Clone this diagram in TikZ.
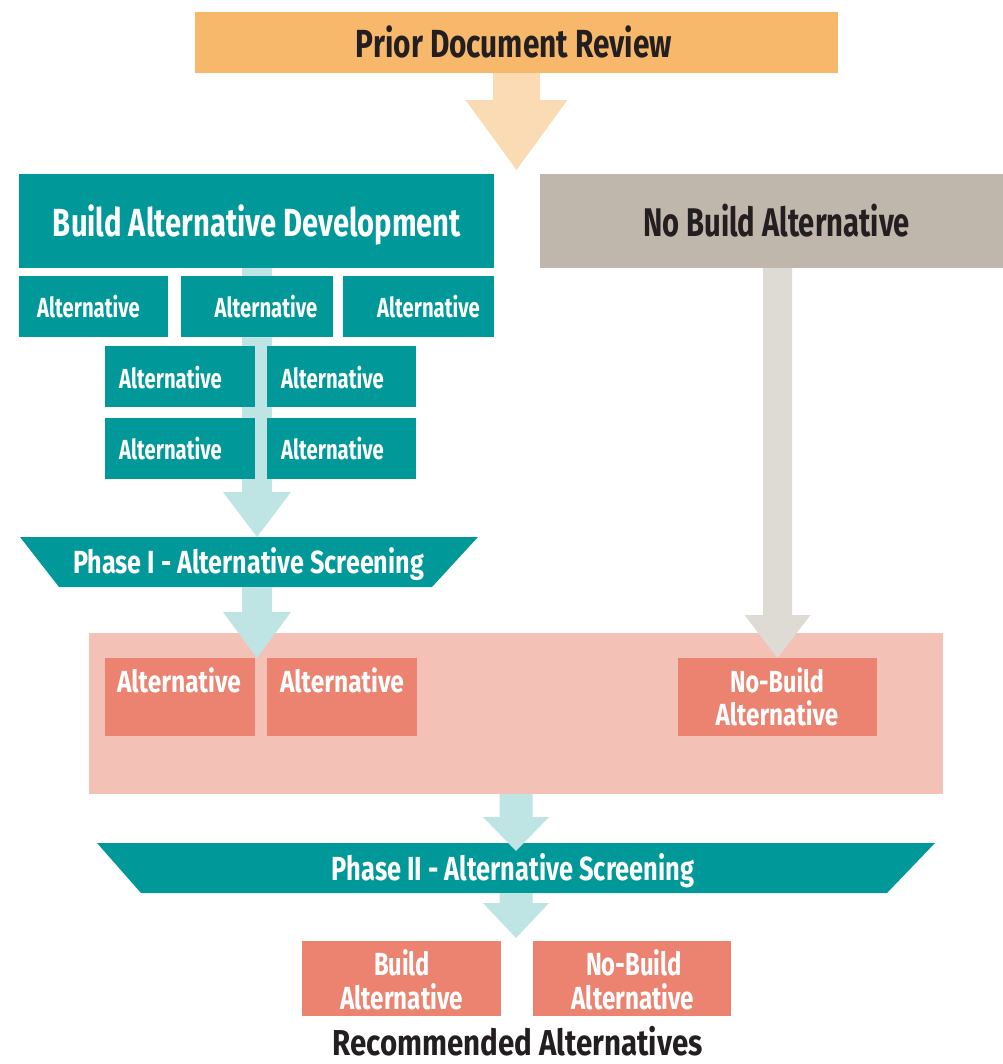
\documentclass[tikz,border=0pt]{standalone}
\usepackage{fontspec}
\setmainfont{Fira Sans}
\usepackage{graphicx}
\usetikzlibrary{calc}
\definecolor{orangeC}{RGB}{247,184,108}
\definecolor{orangeL}{RGB}{251,219,180}
\definecolor{tealC}{RGB}{0,152,152}
\definecolor{tealL}{RGB}{190,228,228}
\definecolor{greyC}{RGB}{191,182,172}
\definecolor{greyL}{RGB}{222,219,213}
\definecolor{pinkL}{RGB}{244,193,183}
\definecolor{salmonC}{RGB}{236,130,112}
\definecolor{inkC}{RGB}{35,31,32}
% text of fixed width: #1 width, #2 font size (pt), #3 text
\newcommand\fw[3]{\resizebox{#1}{\height}{\fontsize{#2}{#2}\selectfont\bfseries #3}}
% vertical block arrow: #1 start, #2 tip (x taken from tip), #3 shaft half width, #4 head half width, #5 head length (px), #6 colour
\newcommand\blockarrow[6]{%
  \fill[#6] let \p1=(#1), \p2=(#2) in
    (\x2-#3*0.75pt,\y1) -- (\x2-#3*0.75pt,\y2+#5*0.75pt) -- (\x2-#4*0.75pt,\y2+#5*0.75pt)
    -- (\x2,\y2) -- (\x2+#4*0.75pt,\y2+#5*0.75pt) -- (\x2+#3*0.75pt,\y2+#5*0.75pt)
    -- (\x2+#3*0.75pt,\y1) -- cycle;}
\tikzset{
  bx/.style n args={2}{rectangle, inner sep=0pt, outer sep=0pt,
    minimum width=#1*0.75pt, minimum height=#2*0.75pt},
  tx/.style={anchor=base, inner sep=0pt, outer sep=0pt, text=white},
  txd/.style={tx, text=inkC},
}
\begin{document}
\begin{tikzpicture}[x=0.75pt,y=-0.75pt]
\useasboundingbox (0,0) rectangle (1003,1064);

% top box and orange arrow
\node[bx={643}{61}, fill=orangeC] (prior) at (516.5,42.5) {};
\coordinate (tip1) at (516.5,170);
\blockarrow{prior.south}{tip1}{23.5}{51}{70}{orangeL}

% branch headers
\node[bx={475}{94}, fill=tealC] (build) at (256.5,221) {};
\node[bx={463}{94}, fill=greyC] (nobuild) at (771.5,221) {};

% phase I placeholder (shape drawn below)
\node[bx={474}{50}] (phase1) at (257,562) {};

% light teal bar behind the alternatives
\blockarrow{build.south}{phase1.north}{15}{34}{45}{tealL}

% alternatives
\node[bx={149}{61}, fill=tealC] (a1) at (93.5,306.5) {};
\node[bx={152}{61}, fill=tealC] (a2) at (257,306.5) {};
\node[bx={151}{61}, fill=tealC] (a3) at (418.5,306.5) {};
\node[bx={150}{61}, fill=tealC] (a4) at (180,376.5) {};
\node[bx={149}{61}, fill=tealC] (a5) at (341.5,376.5) {};
\node[bx={150}{61}, fill=tealC] (a6) at (180,448.5) {};
\node[bx={149}{61}, fill=tealC] (a7) at (341.5,448.5) {};

% phase I trapezoid
\fill[tealC] (20,537) -- (478,537) -- (432,587) -- (59,587) -- cycle;

% pink band with results
\node[bx={854}{161}, fill=pinkL] (pink) at (516,713.5) {};
\node[bx={150}{78}, fill=salmonC] (s1) at (180,697) {};
\node[bx={150}{78}, fill=salmonC] (s2) at (342,697) {};
\node[bx={199}{78}, fill=salmonC] (s3) at (777.5,697) {};

\coordinate (tip2) at (257,658);
\blockarrow{phase1.south}{tip2}{15}{34}{46}{tealL}
\blockarrow{nobuild.south}{s3.north}{14.5}{33}{43}{greyL}

% phase II
\node[bx={838}{50}] (phase2) at (516,868) {};
\fill[tealC] (97,843) -- (935,843) -- (887,893) -- (141,893) -- cycle;
\coordinate (tip3) at (516,851);
\blockarrow{pink.south}{tip3}{16.5}{33}{34}{tealL}

% recommended
\node[bx={199}{75}, fill=salmonC] (r1) at (401.5,978.5) {};
\node[bx={198}{75}, fill=salmonC] (r2) at (632,978.5) {};
\coordinate (tip4) at (516,938);
\blockarrow{phase2.south}{tip4}{16.5}{33}{35}{tealL}

% texts
\node[txd] (tprior) at (514,57) {\fw{237pt}{29.4}{Prior Document Review}};
\node[tx] (tbuild) at (257,236) {\fw{306pt}{29.4}{Build Alternative Development}};
\node[txd] (tnobuild) at (776.5,236) {\fw{200pt}{30}{No Build Alternative}};
\node[tx] (ta1) at (88.5,317) {\fw{77pt}{20.7}{Alternative}};
\node[tx] (ta2) at (266,317) {\fw{77pt}{20.7}{Alternative}};
\node[tx] (ta3) at (428.5,317) {\fw{77pt}{20.7}{Alternative}};
\node[tx] (ta4) at (170.5,388) {\fw{77pt}{20.7}{Alternative}};
\node[tx] (ta5) at (332.5,388) {\fw{77pt}{20.7}{Alternative}};
\node[tx] (ta6) at (170.5,459) {\fw{77pt}{20.7}{Alternative}};
\node[tx] (ta7) at (332.5,459) {\fw{77pt}{20.7}{Alternative}};
\node[tx] (tph1) at (248.5,573) {\fw{263pt}{24}{Phase I - Alternative Screening}};
\node[tx] (ts1) at (179,692) {\fw{93pt}{22.9}{Alternative}};
\node[tx] (ts2) at (342,692) {\fw{93pt}{22.9}{Alternative}};
\node[tx] (ts3a) at (777,692) {\fw{70.5pt}{22.9}{No-Build}};
\node[tx] (ts3b) at (777,725) {\fw{92pt}{22.9}{Alternative}};
\node[tx] (tph2) at (513,880) {\fw{271.5pt}{25}{Phase II - Alternative Screening}};
\node[tx] (tr1a) at (402,975) {\fw{42pt}{24}{Build}};
\node[tx] (tr1b) at (401.5,1009) {\fw{92pt}{24}{Alternative}};
\node[tx] (tr2a) at (634,975) {\fw{72pt}{24}{No-Build}};
\node[tx] (tr2b) at (633,1009) {\fw{92pt}{24}{Alternative}};
\node[txd] (trec) at (517.5,1055) {\fw{277.5pt}{27}{Recommended Alternatives}};
\end{tikzpicture}
\end{document}
